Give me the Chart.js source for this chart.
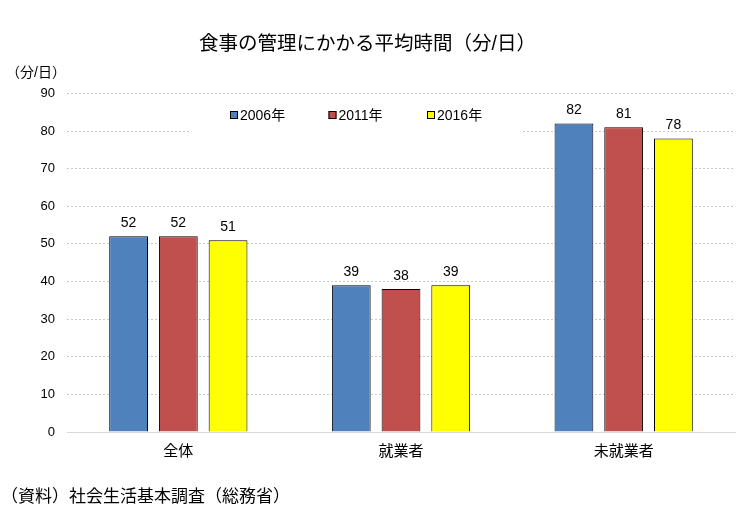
<!DOCTYPE html>
<html lang="ja">
<head>
<meta charset="UTF-8">
<title>食事の管理にかかる平均時間</title>
<script src="https://cdn.jsdelivr.net/npm/chart.js"></script>
<style>
  html, body { margin: 0; padding: 0; background: #fff; }
  #wrap { width: 756px; height: 529px; }
</style>
</head>
<body>
<div id="wrap"><canvas id="mealChart"></canvas></div>
<script>
const categories = ['全体', '就業者', '未就業者'];
const years = ['2006年', '2011年', '2016年'];
const values2006 = [52, 39, 82];
const values2011 = [52, 38, 81];
const values2016 = [51, 39, 78];
const yTicks = [0, 10, 20, 30, 40, 50, 60, 70, 80, 90];

const colors = ['#4f81bd', '#c0504d', '#ffff00'];
const FONT = "'Liberation Sans', 'Noto Sans CJK JP', sans-serif";

// data labels, in-plot legend, unit and source text
const extras = {
    id: 'extras',
    afterDatasetsDraw(chart) {
        const ctx = chart.ctx;
        ctx.save();
        ctx.fillStyle = '#000';
        ctx.font = '14px ' + FONT;
        ctx.textAlign = 'center';
        ctx.textBaseline = 'bottom';
        chart.data.datasets.forEach((ds, i) => {
            chart.getDatasetMeta(i).data.forEach((bar, j) => {
                ctx.fillText(ds.data[j], bar.x, bar.y - 6);
            });
        });

        // legend box inside plot
        ctx.fillStyle = '#fff';
        ctx.fillRect(189, 100, 332, 34);
        ctx.font = '14px ' + FONT;
        ctx.textAlign = 'left';
        ctx.textBaseline = 'middle';
        chart.data.datasets.forEach((ds, i) => {
            const x = 230 + i * 98.5;
            ctx.fillStyle = ds.backgroundColor;
            ctx.fillRect(x, 111, 8, 8);
            ctx.strokeStyle = '#000';
            ctx.lineWidth = 1;
            ctx.strokeRect(x + 0.5, 111.5, 7, 7);
            ctx.fillStyle = '#000';
            ctx.fillText(ds.label, x + 10, 116);
        });

        ctx.font = '14px ' + FONT;
        ctx.fillText('（分/日）', 6, 73);
        ctx.font = '17px ' + FONT;
        ctx.fillText('（資料）社会生活基本調査（総務省）', 1, 497);
        ctx.restore();
    }
};

const datasets = [values2006, values2011, values2016].map((vals, i) => ({
    label: years[i],
    data: vals,
    backgroundColor: colors[i],
    borderColor: '#000',
    borderWidth: 1,
    categoryPercentage: 0.67,
    barPercentage: 0.78
}));

new Chart(document.getElementById('mealChart'), {
    type: 'bar',
    data: { labels: categories, datasets: datasets },
    options: {
        responsive: true,
        maintainAspectRatio: false,
        animation: false,
        layout: { padding: { top: 0, right: 21, bottom: 0, left: 0 } },
        plugins: {
            legend: { display: false },
            tooltip: { enabled: false },
            title: {
                display: true,
                text: '食事の管理にかかる平均時間（分/日）',
                color: '#000',
                font: { family: FONT, size: 19.5, weight: 'normal' },
                padding: { top: 33, bottom: 37 }
            }
        },
        scales: {
            x: {
                grid: { display: false, drawTicks: false },
                border: { display: true, color: '#d9d9d9' },
                ticks: { color: '#000', font: { family: FONT, size: 15 }, padding: 11 },
                afterFit(scale) { scale.height = 97; }
            },
            y: {
                min: 0,
                max: 90,
                afterBuildTicks(scale) { scale.ticks = yTicks.map(v => ({ value: v })); },
                grid: { color: '#c8c8c8', drawTicks: false },
                border: { display: false, dash: [2, 2] },
                ticks: { color: '#000', font: { family: FONT, size: 13 }, padding: 12 },
                afterFit(scale) { scale.width = 67; }
            }
        }
    },
    plugins: [extras]
});
</script>
</body>
</html>
